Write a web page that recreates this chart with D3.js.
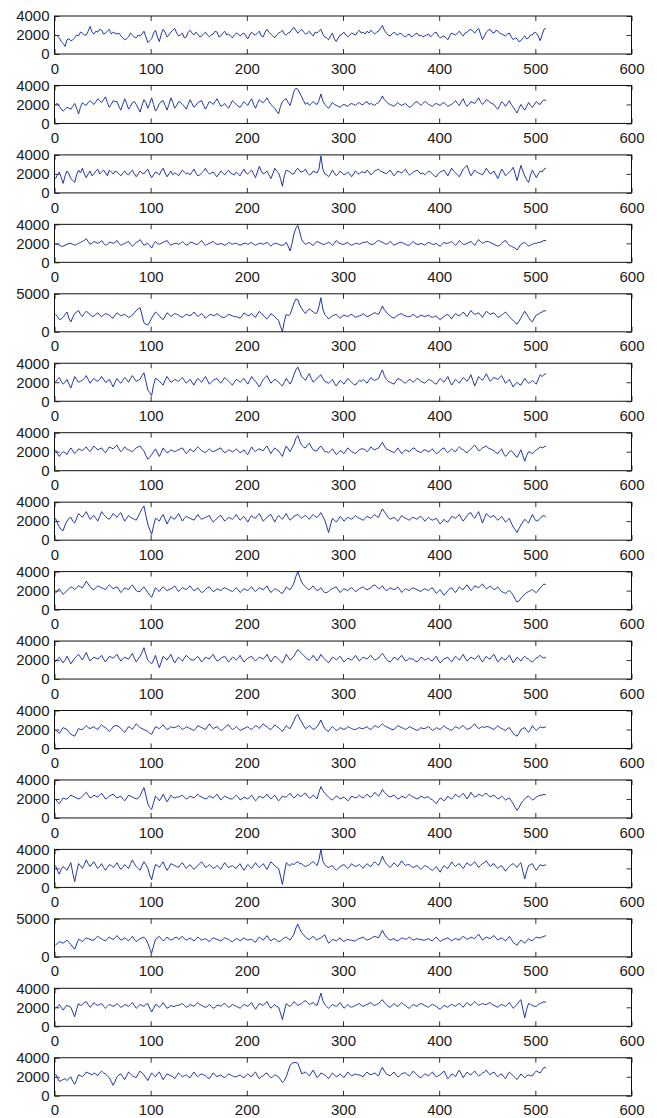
<!DOCTYPE html>
<html>
<head>
<meta charset="utf-8">
<script src="https://cdn.jsdelivr.net/npm/d3@7"></script>
<style>
  body { margin: 0; background: #fff; }
  svg { display: block; }
</style>
</head>
<body>
<div id="chart"></div>
<script>
// 16 channels, one value every 2 samples (x = 1, 3, 5, ... 511)
const s1 = [
  2000,1900,1700,1300,1100,800,1500,1600,1400,1500,1700,2000,1900,2300,2200,2000,
  2000,2400,2900,2300,2100,2400,2300,2600,2500,2100,2200,2400,2600,2100,2300,2200,
  2100,2200,1900,1700,1500,1600,1800,2200,2000,1800,1700,2000,1900,2100,2400,1800,
  1200,1400,1600,2200,2500,1800,1300,2100,2600,2300,1800,2000,2300,2500,2700,2200,
  1900,2000,2200,1700,1800,2300,2500,2200,2000,2300,2100,1800,1900,2100,2300,2000,
  1800,2000,2100,2400,2300,1800,1900,2200,2400,2000,2100,1900,1700,2000,2200,2100,
  1900,2100,2200,1900,1600,2000,2300,2100,2000,2200,2400,1900,1800,2300,2600,2300,
  2100,1900,1700,2000,2200,2300,2500,2100,2000,2200,2300,2600,2800,2500,2200,2400,
  2600,2300,2100,2200,2400,2100,1900,2300,2200,2400,2600,2100,1800,1700,1500,1900,
  2200,1600,1300,1700,2000,2100,2300,2000,1800,2000,2200,2100,2000,2300,2500,2200,
  2300,2100,2400,2200,2500,2300,2100,2300,2400,2700,3000,2500,2200,2000,1900,2100,
  2300,2100,2000,2200,2100,1900,1800,2000,2100,1800,1900,2100,2200,1900,2000,1800,
  1900,2000,2100,1800,2000,2200,2300,1900,1700,1800,1900,1700,1500,1900,2200,2100,
  2000,2200,2400,2100,1900,2200,2300,2500,2600,2400,2200,2500,2700,2100,1500,1900,
  2300,2500,2600,2300,2200,2500,2400,2200,2100,2000,1900,2100,2200,1800,1500,1700,
  1600,1300,1400,1700,1900,1600,1700,2000,2000,2300,2200,1900,1400,2000,2600,2700];
const s2 = [
  2000,2100,1800,1500,1300,1500,1700,1600,1500,1800,2100,1600,1000,1700,2200,2000,
  1900,2200,2400,2200,2000,2300,2600,2400,2200,2500,2800,2200,1700,2000,2400,2300,
  2300,1800,1400,2000,2600,2100,1500,1800,2200,2300,2000,1600,1200,1900,2500,2200,
  1600,2100,2700,2000,1300,1600,2100,2300,2400,1900,1400,2000,2700,2200,1600,1900,
  2300,2200,2000,1800,1500,2000,2500,2100,1700,1900,2200,2300,2400,1900,1500,1900,
  2300,2200,2000,2300,2600,2200,1800,1900,2100,1800,1600,2000,2400,2200,2000,1800,
  1700,2000,2300,2100,1900,2300,2600,2000,1600,2100,2500,2300,2200,2400,2700,2300,
  2000,1800,1600,1300,1000,1800,2300,2500,2600,2200,1900,2600,3400,3700,3600,3200,
  2800,2400,2000,2200,1900,2100,2300,2100,2000,2400,3100,2400,2000,1800,1600,1900,
  2200,2000,1900,1800,1700,1900,2000,1900,1800,2000,2100,2000,1900,2100,2200,2000,
  2000,2200,2300,2000,2100,2000,1900,2100,2200,2500,2900,2500,2300,2100,2000,1900,
  1800,2000,2200,2000,1900,2000,2100,1900,1700,1800,2000,2200,2300,2100,1900,2100,
  2300,2200,2000,1900,1800,2000,2100,2000,1900,2100,2200,2000,1800,1900,2000,2200,
  2400,2100,1900,2300,2600,2100,1800,2000,2300,2200,2100,2400,2700,2300,2000,2200,
  2500,2400,2200,2100,2000,1700,1500,1900,2300,2100,1800,2100,2400,2000,1700,1400,
  1100,1600,2000,1700,1400,1800,2200,1900,1700,2000,2300,2100,2000,2300,2500,2400];
const s3 = [
  1500,1900,2200,1600,1000,1800,2300,2000,1500,1300,1100,1900,2400,2100,2600,2000,
  1600,2000,2300,1800,2000,2300,2500,2000,2200,2400,2100,1800,2400,2200,2000,2300,
  2200,2000,1800,2100,2300,2000,1900,2200,2400,2000,1700,2000,2300,2100,2000,2300,
  2500,2000,1600,1900,2200,2100,1900,2300,2600,2100,1700,2000,2300,1900,2100,2000,
  1800,2100,2400,2200,2000,2100,1900,2200,2500,2100,1800,1900,2100,2300,2600,2200,
  2000,2100,2200,1900,1700,2000,2300,2100,1900,2200,2400,2100,2000,1900,2200,2000,
  1800,2200,2500,2100,2000,2200,2400,2000,1600,2200,2800,2300,2000,2100,2300,1900,
  1500,2000,2600,2300,2100,1500,700,1800,2400,2300,2200,2000,2000,2400,2600,2300,
  2200,2300,2500,2100,1900,2000,2300,2200,2100,2500,3900,2500,2000,1900,1700,2000,
  2400,2100,1800,2000,2300,2100,1900,2000,2200,2000,1700,2000,2300,2100,2000,2200,
  2200,2100,2400,2200,1900,2100,2300,2400,2500,2300,2200,2100,2000,2200,2400,2100,
  1800,2000,2300,2200,2100,2300,2500,2100,1900,2000,2200,2300,2400,2200,2000,2100,
  1900,2100,2300,2200,2000,1800,1700,2000,2200,2300,2400,2100,1800,2200,2600,2300,
  2100,1900,1700,2100,2500,2700,2900,2300,1800,2100,2400,2200,2100,2000,1900,2200,
  2600,2300,2000,2100,2300,1900,1500,2000,2500,2200,1800,2000,2200,2400,2700,2000,
  1300,2100,2900,2300,1800,1400,1100,1900,2400,2000,1600,2000,2300,2200,2500,2600];
const s4 = [
  1900,1900,1800,1700,1700,1800,1900,2000,2000,1900,1800,1900,2000,2100,2200,2300,
  2500,2200,1900,2000,2200,2100,2000,2100,2300,2000,1800,1900,2100,2100,2000,2100,
  2300,2000,1800,1900,2000,2100,2200,1900,1700,1900,2100,2200,2400,2100,1800,1900,
  2000,1800,1500,1900,2200,2000,1900,2000,2100,2200,2300,2000,1800,1900,2000,2000,
  1900,2000,2200,2000,1800,1900,2100,2100,2000,1900,1900,2100,2300,2000,1800,1900,
  2000,2100,2200,2000,1900,1900,2000,1900,1800,1900,2100,2000,1900,2000,2000,1900,
  1800,1900,2000,2000,1900,2000,2100,1900,1800,1900,2000,2000,1900,2000,2100,1900,
  1700,1900,2000,2000,1900,1800,1800,1900,2100,1700,1200,2000,3000,3600,3900,3200,
  2400,2100,1900,2000,2100,1900,1800,2000,2200,2100,2000,1900,1900,2000,2100,2000,
  1800,2000,2300,2100,2000,1900,1900,2000,2100,1900,1800,1900,2000,2000,1900,2000,
  2100,2100,2200,2000,1900,1900,2000,2200,2300,2200,2100,2000,1900,2000,2200,2000,
  1800,1900,2000,2100,2100,2000,1900,1800,1800,2000,2200,2000,1900,1900,2000,1900,
  1800,2000,2100,2000,1900,1900,2000,1800,1700,1900,2100,2000,2000,2100,2200,2000,
  1800,2000,2300,2100,1900,1900,2000,2100,2200,2000,1800,2100,2400,2200,2000,2100,
  2200,2200,2100,2000,1900,1800,1700,1800,2000,2200,2300,2000,1800,1700,1600,1500,
  1300,1600,1900,2000,2100,1900,1700,1800,1900,2000,2000,2100,2100,2200,2300,2300];
const s5 = [
  2300,2000,1600,1700,1900,2300,2600,1800,1300,1900,2400,2600,2800,2300,2000,2400,
  2700,2500,2300,2000,2100,2300,2500,2200,2000,2200,2400,2300,2200,1900,1800,2200,
  2500,2300,2100,2200,2300,2100,1900,2000,2200,2500,2800,3000,3200,2200,1200,1000,
  900,1300,1800,2200,2600,2400,2100,1800,1600,2000,2500,2300,2000,2200,2400,2300,
  2200,2000,1900,2100,2300,2200,2100,2300,2600,2300,2000,2200,2400,2100,1800,2000,
  2200,2300,2100,2200,2400,2200,2000,1900,1900,2100,2300,2200,2100,2000,2000,1900,
  1800,2100,2500,2300,2100,2200,2400,2100,1900,2300,2700,2400,2200,1900,1700,2000,
  2400,2200,2000,1700,1500,700,0,1400,2300,2100,2300,3000,3800,4300,4200,3500,
  3100,2700,2400,2800,3000,2800,2600,2400,2500,3300,4500,3000,2300,2000,1700,1900,
  2100,2200,2300,2000,1800,2000,2200,2100,2000,2200,2300,2100,1900,2000,2100,2200,
  2400,2200,2000,2100,2200,2400,2500,2400,2300,2800,3400,2900,2600,2300,2100,1900,
  1800,2000,2200,2300,2400,2200,2100,2000,2000,2100,2300,2100,1900,2000,2200,2100,
  2000,2100,2200,2000,1900,2000,2100,1800,1600,1800,2000,2200,2300,2000,1700,2100,
  2400,2200,2100,2300,2600,2300,2000,2400,2800,2500,2300,2400,2500,2200,1900,2300,
  2700,2500,2300,2400,2500,2200,1900,2000,2200,2400,2600,2300,2000,1700,1500,1200,
  1000,1400,1800,2300,2700,2300,1900,1500,1300,1800,2200,2300,2500,2600,2800,2700];
const s6 = [
  2000,2300,2500,2100,1800,2000,2300,1800,1400,2000,2600,2300,2000,2100,2200,2400,
  2700,2300,1900,2200,2400,2200,2100,2300,2600,2300,2000,2100,2300,1900,1500,2000,
  2400,2100,1900,2200,2500,2300,2000,2400,2700,2400,2100,2200,2300,2700,3000,2100,
  1200,900,600,1700,2400,2300,2100,1900,1700,2200,2600,2300,2000,2100,2300,2200,
  2100,2300,2500,2200,1900,2100,2300,2000,1700,2100,2400,2200,2000,2300,2600,2200,
  1800,2000,2200,2300,2400,2100,1900,2200,2500,2300,2100,1900,1700,2000,2300,2200,
  2000,2200,2400,2100,1800,2200,2600,2300,2100,1800,1500,1900,2300,2500,2700,2300,
  1900,2100,2300,2200,2000,1800,1600,2000,2400,2100,1800,2200,2800,3300,3600,3100,
  2600,2400,2200,2600,2900,2400,2000,2200,2400,2600,2800,2400,2100,2000,1900,2100,
  2300,1900,1600,1900,2200,2000,1800,2100,2400,2200,2000,1800,1700,2000,2200,2100,
  2300,2100,1900,2200,2500,2300,2200,2300,2400,2900,3300,2700,2300,2100,2000,1900,
  1800,2100,2400,2300,2200,2000,1900,2100,2300,2200,2000,2200,2400,2300,2100,2000,
  1900,2100,2300,2200,2100,1900,1800,2100,2400,2200,2000,2300,2600,2100,1700,2000,
  2300,2100,1900,2200,2500,2300,2100,2400,2800,2200,1600,2100,2600,2400,2200,2500,
  2900,2500,2100,2300,2500,2400,2300,2500,2700,2300,1900,2100,2300,1900,1500,1800,
  2000,1800,1700,2100,2400,2100,1900,2000,2200,2000,1800,2300,2800,2600,2800,2900];
const s7 = [
  2200,1800,1500,1800,2000,1900,1700,2100,2400,2100,1800,2000,2300,2200,2100,2300,
  2500,2200,2000,2300,2600,2400,2200,2300,2400,2100,1900,2200,2500,2400,2300,2500,
  2700,2300,2000,2200,2500,2300,2200,2100,2000,2200,2400,2500,2600,2300,2100,1600,
  1200,1400,1700,2000,2300,1900,1500,1900,2400,2100,1900,2000,2200,2100,2000,2100,
  2200,2300,2400,2100,1800,2000,2300,2100,2000,2300,2500,2300,2100,2000,1900,2100,
  2300,2100,2000,2100,2200,2300,2400,2100,1900,2000,2200,2100,2000,2100,2300,2100,
  1900,2000,2200,1900,1700,2100,2500,2200,2000,2200,2300,2200,2100,2400,2600,2200,
  1800,2100,2400,2200,2100,1800,1500,2100,2600,2300,2000,2400,2800,3400,3700,3100,
  2700,2500,2400,2700,2900,2500,2200,2100,2100,2400,2600,2300,2000,2000,1900,2100,
  2300,2000,1700,1900,2100,2000,1800,2100,2400,2200,2000,1900,1800,2000,2200,2300,
  2300,2200,2000,2200,2500,2300,2200,2300,2400,2700,3000,2600,2300,2200,2100,2000,
  1900,2100,2400,2100,1800,2000,2200,2100,2000,2200,2400,2300,2100,2000,1900,2100,
  2200,2100,2000,2100,2300,2000,1800,1900,2100,2300,2400,2100,1900,2100,2300,2100,
  2000,2300,2500,2300,2200,2000,1900,2100,2300,2500,2700,2400,2100,2200,2400,2500,
  2600,2400,2300,2200,2100,1900,1800,2100,2300,1800,1500,1700,2000,2100,1900,1600,
  1400,1800,2200,1600,1000,1600,2000,1900,1800,2000,2200,2300,2500,2400,2500,2600];
const s8 = [
  2300,1800,1400,1100,1000,1600,2000,2300,2400,2000,1800,2300,2800,2600,2400,2700,
  3000,2600,2200,2400,2600,2300,2000,2500,3000,2700,2500,2300,2200,2500,2800,2600,
  2400,2700,2900,2400,2000,2300,2600,2400,2300,2200,2100,2500,2900,3300,3600,2600,
  1700,1100,600,1500,2300,2200,2000,2400,2700,2200,1700,2100,2500,2300,2200,2500,
  2800,2400,2000,2300,2500,2400,2300,2200,2100,2400,2700,2400,2200,2300,2400,2500,
  2600,2200,1900,2100,2300,2500,2600,2300,2000,2200,2400,2300,2200,2400,2700,2400,
  2100,2300,2500,2200,1900,2300,2600,2400,2300,2600,2800,2400,2000,2200,2400,2600,
  2700,2300,1900,2300,2600,2400,2200,2500,2800,2400,2100,2300,2500,2600,2700,2500,
  2300,2500,2600,2400,2200,2500,2700,2500,2400,2600,2900,2500,2100,1500,800,1600,
  2300,2100,1900,2200,2500,2300,2000,2200,2400,2300,2200,2400,2600,2400,2300,2200,
  2100,2300,2500,2400,2300,2500,2700,2500,2400,2900,3300,3000,2700,2400,2200,2300,
  2400,2200,2000,2300,2600,2400,2300,2200,2100,2300,2400,2300,2200,2400,2500,2300,
  2000,2200,2400,2200,2100,2200,2300,2000,1700,1900,2200,2000,1900,2200,2500,2400,
  2300,2500,2700,2300,2000,2300,2600,2800,2900,2500,2300,2700,3000,2400,1800,2300,
  2800,2600,2400,2500,2600,2300,2100,2300,2500,2200,1900,2100,2300,1800,1400,1100,
  800,1200,1600,1900,2200,2000,1800,2300,2700,2300,2000,2100,2300,2500,2600,2400];
const s9 = [
  1700,2000,2200,1900,1600,1800,2000,2200,2400,2300,2100,2300,2500,2400,2300,2600,
  3000,2700,2400,2200,2100,2300,2500,2400,2300,2200,2100,2400,2600,2400,2200,2300,
  2400,2100,1800,2000,2300,2200,2100,2400,2600,2300,2000,1900,1900,2200,2400,2100,
  1800,1500,1300,1800,2300,2100,1900,2200,2400,2200,2000,2100,2200,2300,2500,2200,
  1900,2100,2300,2200,2100,2300,2500,2200,2000,2100,2300,2000,1800,1900,2100,2300,
  2400,2100,1900,2000,2200,2100,2000,2200,2300,2200,2100,2000,1900,2100,2300,2100,
  1800,2000,2200,2100,2000,2200,2400,2100,1900,2100,2300,2200,2100,2300,2500,2100,
  1800,2000,2200,2100,2000,1800,1700,2000,2400,2200,2100,2400,2800,3500,4000,3400,
  2900,2600,2400,2200,2100,2300,2500,2200,2000,2100,2300,2000,1800,1800,1900,2100,
  2200,2300,2400,2100,1800,2000,2200,2100,2000,2200,2300,2100,1900,2000,2200,2300,
  2400,2200,2100,2200,2300,2500,2600,2400,2200,2300,2500,2200,2000,2100,2300,2200,
  2100,2200,2400,2100,1800,2000,2200,2100,2000,2200,2300,2200,2100,2000,1900,2100,
  2200,2100,2000,2200,2300,2000,1700,1900,2100,1800,1500,1700,2000,2200,2300,2000,
  1800,2100,2400,2200,2100,2400,2600,2300,2000,2200,2500,2400,2300,2500,2700,2400,
  2200,2300,2500,2300,2100,2200,2400,2100,1900,1800,1700,1900,2000,1800,1500,1100,
  800,900,1200,1400,1600,1800,1900,2000,2100,1900,1800,2000,2300,2500,2700,2600];
const s10 = [
  1800,2100,2300,2000,1700,2000,2400,2000,1600,1900,2200,2400,2600,2300,2000,2400,
  2800,2300,1900,2100,2300,2200,2100,2300,2500,2100,1800,2100,2400,2300,2200,2400,
  2600,2200,1900,2100,2300,2200,2100,2400,2700,2200,1800,2100,2400,2800,3300,2600,
  2000,1800,1600,2000,2500,1800,1200,1800,2400,2200,2000,2300,2600,2100,1700,2000,
  2300,2100,1900,2200,2500,2300,2100,2000,2000,2200,2400,2100,1800,2000,2300,2200,
  2100,2400,2600,2200,1900,2000,2200,2300,2400,2100,1800,2000,2300,2200,2000,2200,
  2500,2100,1800,2000,2200,2300,2400,2100,1900,2100,2300,2200,2100,2300,2600,2200,
  1800,2100,2400,2300,2100,1900,1700,2100,2600,2300,2000,2200,2400,2800,3100,2900,
  2700,2500,2300,2100,2000,2200,2500,2200,1900,2200,2600,2300,2100,1900,1700,2000,
  2300,2200,2000,2200,2400,2100,1800,2000,2200,2100,2000,2200,2500,2200,1900,2100,
  2300,2200,2100,2300,2500,2200,2000,2100,2200,2500,2700,2400,2100,1900,1800,2000,
  2300,2200,2000,2300,2500,2200,1900,2000,2200,2100,2100,1900,1800,2000,2300,2200,
  2000,2100,2200,2000,1900,2200,2400,2000,1700,1900,2100,2200,2300,2000,1800,2100,
  2400,2200,2000,2300,2600,2200,1900,2100,2300,2200,2100,2300,2500,2100,1800,2100,
  2400,2200,2100,2400,2600,2200,1800,2000,2300,2100,2000,2300,2500,2100,1700,2000,
  2300,2100,1900,2200,2400,2200,2100,1900,1800,2000,2200,2300,2500,2300,2200,2300];
const s11 = [
  1900,1800,1600,1900,2200,2100,2000,1700,1500,1400,1300,1700,2100,2000,2000,2200,
  2400,2200,2100,2200,2300,2100,2000,2300,2500,2300,2200,2000,1800,2000,2300,2400,
  2400,2300,2100,1900,1700,2000,2300,2200,2000,2300,2600,2400,2200,2100,2000,1900,
  1800,1600,1500,1900,2300,2200,2100,2300,2500,2200,2000,2100,2300,2200,2200,2300,
  2400,2200,2000,2100,2300,2200,2100,2000,1900,2100,2400,2300,2200,2100,2000,2300,
  2600,2300,2100,2200,2300,2100,1900,2000,2200,2400,2500,2200,2000,2100,2300,2100,
  1900,2000,2100,2200,2300,2100,2000,2200,2400,2300,2100,2400,2600,2400,2300,2100,
  2000,2200,2500,2300,2200,2000,1800,2100,2400,2200,2100,2500,2900,3400,3600,3100,
  2800,2400,2100,2200,2400,2200,2000,2100,2300,2600,3000,2500,2100,1900,1800,2100,
  2300,2100,1900,2000,2200,2100,2000,2100,2300,2200,2100,2000,2000,2100,2200,2100,
  2100,2200,2300,2100,2000,2200,2400,2300,2200,2400,2600,2400,2300,2200,2100,2000,
  2000,2200,2400,2300,2200,2100,2000,2100,2300,2200,2100,2000,1900,2000,2200,2100,
  2100,2200,2300,2100,1900,2000,2200,2100,2000,2200,2400,2200,2100,2000,1900,2100,
  2300,2200,2100,2300,2400,2200,2000,2100,2200,2400,2600,2300,2100,2200,2300,2200,
  2300,2300,2200,2100,2000,2200,2400,2200,2100,2000,1900,2100,2200,1900,1600,1400,
  1300,1600,2000,2100,2200,1900,1700,2000,2400,2100,1900,2100,2300,2200,2200,2300];
const s12 = [
  2000,1700,1500,1800,2100,2000,2000,2200,2400,2300,2200,2100,2000,2100,2300,2500,
  2700,2400,2100,2200,2400,2300,2200,2400,2600,2300,2000,2100,2300,2400,2500,2300,
  2100,2200,2300,2000,1800,2100,2400,2300,2200,2100,2000,2100,2300,2800,3200,2400,
  1500,1100,900,1600,2300,2100,1800,2100,2500,2100,1700,2000,2400,2200,2100,2200,
  2200,2300,2400,2200,2000,2100,2300,2200,2100,2300,2500,2300,2200,2100,2000,2100,
  2300,2200,2100,2300,2500,2200,1900,2100,2300,2200,2100,2000,2000,2200,2400,2200,
  1900,2000,2200,2100,2000,2200,2400,2100,1800,2000,2300,2200,2100,2300,2500,2200,
  2000,2200,2400,2100,1800,2000,2300,2200,2200,2400,2600,2300,2100,2300,2500,2300,
  2300,2500,2600,2300,2100,2200,2400,2200,2000,2700,3300,2900,2600,2400,2200,2000,
  1900,2100,2300,2200,2000,2100,2200,2000,1800,2000,2300,2200,2100,2200,2400,2200,
  2100,2300,2500,2300,2200,2400,2700,2500,2300,2600,3000,2700,2500,2300,2200,2300,
  2400,2200,2000,2100,2300,2200,2100,2300,2500,2300,2200,2100,2000,2100,2300,2200,
  2100,2200,2200,2000,1900,1700,1500,1800,2100,2000,1800,2000,2300,2100,2000,2200,
  2500,2300,2200,2400,2600,2300,2000,2300,2700,2400,2200,2300,2500,2400,2300,2500,
  2600,2400,2200,2300,2400,2200,2000,2100,2300,2100,1900,2000,2100,1800,1500,1100,
  800,1100,1500,1800,2000,2200,2300,2100,1900,2000,2200,2300,2400,2400,2500,2400];
const s13 = [
  2300,1800,1400,1900,2200,2000,1800,2200,2600,1500,600,1600,2500,2300,2000,2400,
  2900,2500,2200,2500,2700,2300,2000,2200,2500,2100,1800,2100,2400,2300,2100,2300,
  2600,2200,1900,2100,2400,2200,2000,2500,2900,2500,2200,2000,1800,2300,2700,2400,
  2000,1300,800,1700,2400,2300,2100,2400,2700,2200,1800,2100,2500,2400,2300,2200,
  2100,2400,2600,2300,2000,2200,2400,2100,1900,2100,2300,2500,2700,2400,2100,2200,
  2400,2200,2000,2100,2300,2100,1900,2300,2600,2300,2100,2200,2300,2100,2000,2300,
  2500,2100,1800,2100,2400,2200,2000,2300,2600,2300,2100,2300,2500,2200,1900,2300,
  2700,2500,2300,2100,2000,1200,300,1500,2600,2400,2300,2500,2400,2600,2700,2500,
  2500,2300,2200,2300,2400,2600,2700,2500,2300,2900,4000,2800,2400,2200,2100,2200,
  2300,2000,1800,2000,2200,2300,2400,2200,2000,2200,2500,2300,2200,2300,2400,2200,
  2000,2300,2500,2300,2200,2500,2700,2500,2300,2700,3300,2800,2500,2300,2100,2300,
  2600,2400,2200,2500,2800,2500,2300,2400,2400,2200,2100,2200,2300,2100,1900,2100,
  2300,2200,2100,1900,1800,2000,2200,1900,1600,2000,2300,2100,2000,2300,2700,2400,
  2200,2400,2500,2200,2000,2300,2600,2400,2300,2500,2700,2400,2100,2300,2500,2600,
  2800,2500,2200,2400,2500,2200,2000,2200,2300,2000,1700,2000,2200,2400,2500,2300,
  2100,2400,2600,1700,900,1700,2300,2400,2500,2100,1800,2100,2400,2300,2300,2400];
const s14 = [
  1500,1800,2000,1900,1800,2000,2200,1900,1600,1300,1000,1700,2300,2200,2000,2300,
  2500,2400,2300,2200,2200,2500,2700,2500,2400,2200,2100,2400,2600,2400,2300,2500,
  2800,2500,2200,2300,2500,2300,2100,2400,2700,2300,2000,2200,2400,2500,2600,2300,
  1800,1100,500,1400,2300,2500,2700,2400,2100,2300,2600,2400,2200,2300,2500,2600,
  2300,2500,2700,2400,2200,2300,2500,2300,2100,2300,2600,2400,2200,2300,2400,2200,
  2000,2300,2500,2400,2300,2200,2100,2300,2500,2400,2300,2100,2000,2200,2400,2300,
  2100,2300,2500,2300,2200,2300,2300,2100,1900,2300,2600,2400,2200,2500,2800,2400,
  2100,2300,2400,2200,2000,2100,2300,2500,2600,2400,2200,2600,3000,3800,4300,3700,
  3200,2900,2600,2400,2300,2500,2700,2400,2200,2400,2500,2700,2900,2300,1800,2000,
  2300,2200,2100,2300,2500,2200,2000,2200,2300,2200,2200,2100,2100,2300,2400,2500,
  2600,2400,2200,2300,2400,2600,2700,2600,2500,3000,3500,3000,2600,2400,2200,2300,
  2400,2200,2100,2300,2500,2400,2300,2400,2600,2400,2200,2300,2400,2300,2300,2200,
  2200,2300,2400,2200,2100,2400,2600,2300,2000,2200,2300,2400,2500,2300,2100,2300,
  2400,2300,2200,2500,2700,2500,2300,2400,2600,2500,2400,2700,3000,2600,2200,2400,
  2600,2500,2400,2600,2800,2500,2200,2400,2500,2300,2100,2400,2700,2300,1900,1700,
  1500,1900,2200,2000,1800,2100,2400,2200,2100,2400,2600,2500,2500,2600,2700,2800];
const s15 = [
  1900,2100,2300,2000,1700,2000,2200,2100,2000,1500,1000,1800,2400,2200,2300,2500,
  2600,2300,2000,2200,2500,2300,2200,2300,2400,2100,1900,2100,2300,2200,2100,2200,
  2400,2200,2000,2100,2300,2200,2100,2300,2500,2200,1900,2100,2300,2200,2100,2300,
  2400,1900,1500,1900,2300,2200,2000,2200,2500,2200,1900,2000,2200,2100,2100,2200,
  2200,2300,2400,2200,2000,2100,2300,2200,2100,2300,2500,2300,2200,2100,2000,2100,
  2300,2100,1900,2000,2200,2200,2100,2300,2400,2200,2000,2100,2300,2200,2100,2000,
  1900,2100,2300,2200,2100,2300,2500,2100,1800,2100,2400,2300,2200,2400,2600,2200,
  1900,2100,2300,2100,2000,1400,700,1600,2400,2200,2100,2300,2600,2400,2200,2300,
  2400,2600,2700,2500,2300,2400,2500,2300,2200,2800,3500,2700,2300,2100,1900,2100,
  2300,2200,2100,2300,2500,2200,1900,2100,2300,2100,2000,2100,2200,2300,2400,2200,
  2100,2200,2300,2400,2500,2300,2200,2300,2400,2600,2800,2500,2300,2100,2000,2200,
  2400,2200,2100,2300,2500,2300,2200,2000,1900,2100,2300,2200,2100,2300,2400,2300,
  2200,2100,2000,2200,2300,2200,2100,1900,1800,2000,2200,2100,2000,2200,2300,2200,
  2100,2300,2400,2200,2000,2300,2500,2300,2200,2400,2600,2400,2200,2300,2400,2300,
  2300,2400,2500,2300,2200,2100,2000,2200,2300,2200,2100,2300,2500,2200,1900,2100,
  2300,2600,2800,1800,900,1800,2400,2300,2200,2100,2100,2300,2400,2500,2600,2500];
const s16 = [
  2300,1900,1500,1600,1700,1800,1600,1800,2000,1500,1200,1700,2200,2100,2000,2200,
  2500,2400,2300,2200,2400,2300,2100,2400,2600,2400,2300,2100,1900,1500,1100,1500,
  2000,2200,2300,2000,1700,2100,2500,2300,2100,2000,1900,2300,2600,2400,2200,1900,
  1600,2000,2400,2200,2000,2300,2500,2100,1700,2000,2300,2200,2100,2000,1800,2100,
  2400,2200,2000,2100,2200,2000,1900,2200,2500,2200,2000,2200,2300,2200,2100,1900,
  1800,2100,2400,2200,2000,2100,2200,2000,1900,2100,2300,2200,2100,2000,2000,2100,
  2200,2000,1900,2100,2300,2100,2000,2300,2500,2100,1800,2000,2100,2300,2400,2100,
  1900,2000,2200,2100,2000,1700,1400,1600,2000,2600,3200,3400,3500,3500,3400,2900,
  2300,2400,2500,2300,2100,2400,2700,2300,1900,2100,2400,2300,2200,2000,1800,2100,
  2400,2200,2000,2100,2300,2100,1900,2200,2500,2300,2100,2200,2300,2200,2200,2100,
  2000,2300,2500,2300,2200,2300,2400,2200,2100,2600,3000,2600,2300,2200,2100,2300,
  2500,2200,2000,2100,2300,2400,2400,2200,2100,2300,2600,2400,2200,2000,1900,2100,
  2300,2200,2100,2300,2500,2200,2000,2100,2200,2400,2600,2200,1800,2000,2300,2200,
  2000,2400,2700,2300,1900,2200,2500,2300,2200,2400,2600,2300,2100,2200,2400,2500,
  2700,2400,2200,2400,2500,2200,2000,2200,2300,2000,1800,2200,2500,2300,2100,1900,
  1700,2000,2300,2100,1900,2100,2200,2100,2100,2400,2600,2500,2400,2700,3000,2900];

const series = [s1, s2, s3, s4, s5, s6, s7, s8, s9, s10, s11, s12, s13, s14, s15, s16];
const yMax = [4000, 4000, 4000, 4000, 5000, 4000, 4000, 4000, 4000, 4000, 4000, 4000, 4000, 5000, 4000, 4000];
const xTicks = [0, 100, 200, 300, 400, 500, 600];
const yTicks4k = [0, 2000, 4000];
const yTicks5k = [0, 5000];

const width = 657, height = 1118;
const left = 54.5, right = 631.5;
const top0 = 16, step = 69.45, plotH = 38;

const svg = d3.select("#chart").append("svg")
  .attr("width", width)
  .attr("height", height)
  .style("font-family", "'Liberation Sans', Arial, sans-serif");

const x = d3.scaleLinear().domain([0, 600]).range([left, right]);

series.forEach((vals, k) => {
  const top = top0 + k * step;
  const bottom = top + plotH;
  const y = d3.scaleLinear().domain([0, yMax[k]]).range([bottom, top]);
  const yt = yMax[k] === 5000 ? yTicks5k : yTicks4k;

  const g = svg.append("g");

  // bottom axis with labels, ticks pointing inward
  const gb = g.append("g")
    .attr("transform", `translate(0,${bottom})`)
    .call(d3.axisBottom(x).tickValues(xTicks).tickSizeInner(-5).tickSizeOuter(0).tickPadding(9));
  // top axis, ticks only
  const gt = g.append("g")
    .attr("transform", `translate(0,${top})`)
    .call(d3.axisTop(x).tickValues(xTicks).tickSizeInner(-5).tickSizeOuter(0).tickFormat(""));
  // left axis with labels
  const gl = g.append("g")
    .attr("transform", `translate(${left},0)`)
    .call(d3.axisLeft(y).tickValues(yt).tickSizeInner(-5).tickSizeOuter(0).tickPadding(5).tickFormat(d3.format("d")));
  // right axis, ticks only
  const gr = g.append("g")
    .attr("transform", `translate(${right},0)`)
    .call(d3.axisRight(y).tickValues(yt).tickSizeInner(-5).tickSizeOuter(0).tickFormat(""));

  [gb, gt, gl, gr].forEach(a => {
    a.select(".domain").remove();
    a.selectAll("line").attr("stroke", "#333");
    a.selectAll("text")
      .attr("fill", "#1a1a1a")
      .style("font-size", "15px")
      .style("font-family", "'Liberation Sans', Arial, sans-serif");
  });

  // signal
  const line = d3.line()
    .x((d, i) => x(1 + i * 2))
    .y(d => y(d));

  g.append("path")
    .datum(vals)
    .attr("fill", "none")
    .attr("stroke", "#2236a8")
    .attr("stroke-width", 1)
    .attr("d", line);

  // box
  g.append("rect")
    .attr("x", left)
    .attr("y", top)
    .attr("width", right - left)
    .attr("height", plotH)
    .attr("fill", "none")
    .attr("stroke", "#111")
    .attr("stroke-width", 1);
});
</script>
</body>
</html>
